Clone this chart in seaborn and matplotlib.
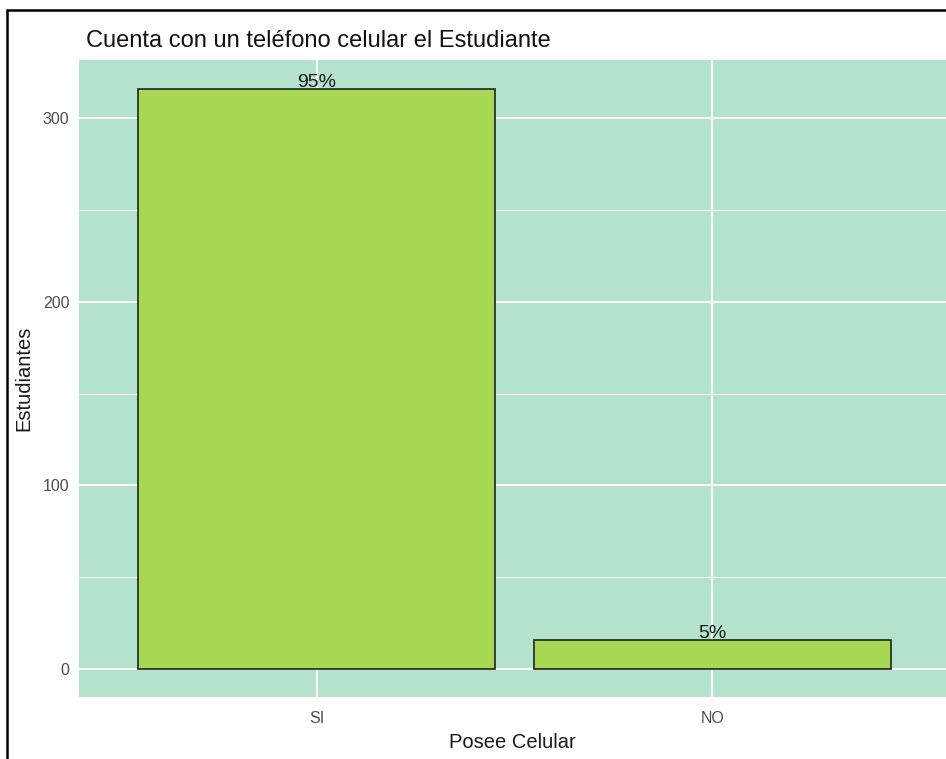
import matplotlib
matplotlib.use("Agg")
import matplotlib.pyplot as plt
from matplotlib.ticker import MultipleLocator, FixedLocator
from matplotlib.patches import Rectangle
import seaborn as sns
import pandas as pd

# ---- data ----
categories = ["SI", "NO"]
counts = [316, 16]
pct_labels = ["95%", "5%"]
title = "Cuenta con un teléfono celular el Estudiante"
x_label = "Posee Celular"
y_label = "Estudiantes"
y_ticks = [0, 100, 200, 300]

df = pd.DataFrame({"cat": categories, "n": counts})

sns.set_style("white")
plt.rcParams["font.family"] = ["Liberation Sans", "DejaVu Sans"]

W, H = 946, 759
fig = plt.figure(figsize=(W / 100, H / 100), dpi=100)
fig.patch.set_facecolor("white")

px_l, px_r, px_t, px_b = 79, 946, 60, 697
ax = fig.add_axes([px_l / W, 1 - px_b / H, (px_r - px_l) / W, (px_b - px_t) / H])
ax.set_facecolor("#b3e2cd")

sns.barplot(data=df, x="cat", y="n", order=categories, color="#a6d854",
            saturation=1, edgecolor="#222222", linewidth=1.2, width=0.9, ax=ax)

ax.set_xlim(-0.6, 1.59)
ax.set_ylim(-15.2, 331.6)

ax.yaxis.set_major_locator(FixedLocator(y_ticks))
ax.yaxis.set_minor_locator(MultipleLocator(50))
ax.set_axisbelow(True)
ax.grid(which="major", color="white", linewidth=1.4)
ax.grid(which="minor", axis="y", color="white", linewidth=0.7)
ax.tick_params(which="minor", length=0)
ax.tick_params(which="major", length=4, width=0.9, color="#333333",
               labelsize=11.5, labelcolor="#4d4d4d", pad=3)
ax.tick_params(axis="x", pad=6)
for s in ax.spines.values():
    s.set_visible(False)

for i, (v, lab) in enumerate(zip(counts, pct_labels)):
    ax.annotate(lab, xy=(i, v), xytext=(0, 1.5), textcoords="offset points",
                ha="center", va="baseline", fontsize=14, color="#1a1a1a")

ax.set_xlabel(x_label, fontsize=14.5, color="#1a1a1a", labelpad=5)
ax.set_ylabel(y_label, fontsize=14.5, color="#1a1a1a", labelpad=7)

fig.text(86 / W, 1 - 47 / H, title, ha="left", va="baseline",
         fontsize=17, color="#111111")

# outer frame of the screenshot
fig.add_artist(Rectangle((7 / W, -0.1), 1.2, (H - 10) / H + 0.1,
                         transform=fig.transFigure, fill=False,
                         edgecolor="black", linewidth=1.8))

fig.savefig("out.png", dpi=100, facecolor="white")
